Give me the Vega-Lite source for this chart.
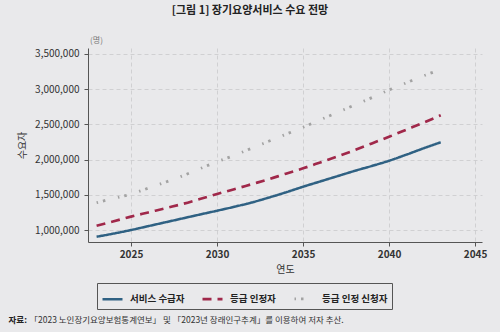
{
  "$schema": "https://vega.github.io/schema/vega-lite/v6.json",
  "width": 394,
  "height": 194,
  "autosize": "none",
  "padding": {"left": 88, "top": 48, "right": 18, "bottom": 90},
  "background": "#e9e9eb",
  "title": {"text": "[그림 1] 장기요양서비스 수요 전망", "font": "Noto Sans CJK KR", "fontSize": 11, "fontWeight": "bold", "color": "#222222", "anchor": "middle", "dx": -35, "offset": 20},
  "config": {
    "view": {"stroke": null},
    "font": "Noto Sans CJK KR",
    "axis": {"labelFont": "Noto Sans CJK KR", "titleFont": "Noto Sans CJK KR", "labelColor": "#333333", "titleColor": "#333333", "labelFontSize": 10, "titleFontSize": 10, "titleFontWeight": "normal", "domainColor": "#555555", "tickColor": "#555555", "gridColor": "#c9c9cc", "gridDash": [4, 3], "gridWidth": 0.8, "tickSize": 4}
  },
  "data": {"values": [
    {"year": 2023, "series": "서비스 수급자", "value": 905000},
    {"year": 2024, "series": "서비스 수급자", "value": 950000},
    {"year": 2025, "series": "서비스 수급자", "value": 1000000},
    {"year": 2026, "series": "서비스 수급자", "value": 1055000},
    {"year": 2027, "series": "서비스 수급자", "value": 1110000},
    {"year": 2028, "series": "서비스 수급자", "value": 1165000},
    {"year": 2029, "series": "서비스 수급자", "value": 1220000},
    {"year": 2030, "series": "서비스 수급자", "value": 1274000},
    {"year": 2031, "series": "서비스 수급자", "value": 1330000},
    {"year": 2032, "series": "서비스 수급자", "value": 1390000},
    {"year": 2033, "series": "서비스 수급자", "value": 1460000},
    {"year": 2034, "series": "서비스 수급자", "value": 1535000},
    {"year": 2035, "series": "서비스 수급자", "value": 1615000},
    {"year": 2036, "series": "서비스 수급자", "value": 1690000},
    {"year": 2037, "series": "서비스 수급자", "value": 1765000},
    {"year": 2038, "series": "서비스 수급자", "value": 1840000},
    {"year": 2039, "series": "서비스 수급자", "value": 1910000},
    {"year": 2040, "series": "서비스 수급자", "value": 1984000},
    {"year": 2041, "series": "서비스 수급자", "value": 2070000},
    {"year": 2042, "series": "서비스 수급자", "value": 2160000},
    {"year": 2043, "series": "서비스 수급자", "value": 2246000},
    {"year": 2023, "series": "등급 인정자", "value": 1061000},
    {"year": 2024, "series": "등급 인정자", "value": 1125000},
    {"year": 2025, "series": "등급 인정자", "value": 1190000},
    {"year": 2026, "series": "등급 인정자", "value": 1250000},
    {"year": 2027, "series": "등급 인정자", "value": 1310000},
    {"year": 2028, "series": "등급 인정자", "value": 1370000},
    {"year": 2029, "series": "등급 인정자", "value": 1440000},
    {"year": 2030, "series": "등급 인정자", "value": 1511000},
    {"year": 2031, "series": "등급 인정자", "value": 1580000},
    {"year": 2032, "series": "등급 인정자", "value": 1650000},
    {"year": 2033, "series": "등급 인정자", "value": 1720000},
    {"year": 2034, "series": "등급 인정자", "value": 1800000},
    {"year": 2035, "series": "등급 인정자", "value": 1876000},
    {"year": 2036, "series": "등급 인정자", "value": 1960000},
    {"year": 2037, "series": "등급 인정자", "value": 2045000},
    {"year": 2038, "series": "등급 인정자", "value": 2135000},
    {"year": 2039, "series": "등급 인정자", "value": 2230000},
    {"year": 2040, "series": "등급 인정자", "value": 2325000},
    {"year": 2041, "series": "등급 인정자", "value": 2425000},
    {"year": 2042, "series": "등급 인정자", "value": 2525000},
    {"year": 2043, "series": "등급 인정자", "value": 2630000},
    {"year": 2023, "series": "등급 인정 신청자", "value": 1388000},
    {"year": 2024, "series": "등급 인정 신청자", "value": 1450000},
    {"year": 2025, "series": "등급 인정 신청자", "value": 1510000},
    {"year": 2026, "series": "등급 인정 신청자", "value": 1595000},
    {"year": 2027, "series": "등급 인정 신청자", "value": 1680000},
    {"year": 2028, "series": "등급 인정 신청자", "value": 1770000},
    {"year": 2029, "series": "등급 인정 신청자", "value": 1870000},
    {"year": 2030, "series": "등급 인정 신청자", "value": 1970000},
    {"year": 2031, "series": "등급 인정 신청자", "value": 2060000},
    {"year": 2032, "series": "등급 인정 신청자", "value": 2160000},
    {"year": 2033, "series": "등급 인정 신청자", "value": 2260000},
    {"year": 2034, "series": "등급 인정 신청자", "value": 2360000},
    {"year": 2035, "series": "등급 인정 신청자", "value": 2460000},
    {"year": 2036, "series": "등급 인정 신청자", "value": 2565000},
    {"year": 2037, "series": "등급 인정 신청자", "value": 2670000},
    {"year": 2038, "series": "등급 인정 신청자", "value": 2775000},
    {"year": 2039, "series": "등급 인정 신청자", "value": 2880000},
    {"year": 2040, "series": "등급 인정 신청자", "value": 2990000},
    {"year": 2041, "series": "등급 인정 신청자", "value": 3090000},
    {"year": 2042, "series": "등급 인정 신청자", "value": 3190000},
    {"year": 2043, "series": "등급 인정 신청자", "value": 3280000}
  ]},
  "resolve": {"axis": {"x": "independent", "y": "independent"}},
  "layer": [
    {
      "mark": {"type": "line", "interpolate": "monotone"},
      "encoding": {
        "x": {"field": "year", "type": "quantitative", "scale": {"domain": [2022.5, 2045.4], "nice": false, "zero": false},
              "axis": {"values": [2025, 2030, 2035, 2040, 2045], "format": "d", "title": "연도", "titlePadding": 5, "labelFontWeight": "bold", "labelPadding": 3}},
        "y": {"field": "value", "type": "quantitative", "scale": {"domain": [830000, 3585000], "nice": false, "zero": false},
              "axis": {"values": [1000000, 1500000, 2000000, 2500000, 3000000, 3500000], "format": ",d", "title": "수요자", "titleX": -66, "titleY": 97, "titleAngle": 270, "titleAlign": "center", "titleBaseline": "middle", "labelPadding": 5}},
        "color": {"field": "series", "type": "nominal",
                  "scale": {"domain": ["서비스 수급자", "등급 인정자", "등급 인정 신청자"], "range": ["#2f6183", "#a0284a", "#a3a3a3"]},
                  "legend": {"orient": "none", "legendX": 9, "legendY": 235, "direction": "horizontal", "title": null, "symbolType": "stroke", "symbolSize": 400, "symbolStrokeWidth": 2.5, "labelFontSize": 9.5, "labelFontWeight": "bold", "labelColor": "#222222", "strokeColor": "#555555", "padding": 4, "columnPadding": 12, "labelOffset": 6}},
        "strokeDash": {"field": "series", "type": "nominal",
                  "scale": {"domain": ["서비스 수급자", "등급 인정자", "등급 인정 신청자"], "range": [[1, 0], [9, 6], [1.5, 5, 2.5, 13]]}},
        "strokeWidth": {"field": "series", "type": "nominal", "scale": {"domain": ["서비스 수급자", "등급 인정자", "등급 인정 신청자"], "range": [2.5, 2.8, 2]}, "legend": null}
      }
    },
    {
      "mark": {"type": "point", "opacity": 0},
      "encoding": {
        "x": {"field": "year", "type": "quantitative", "scale": {"domain": [2022.5, 2045.4], "nice": false, "zero": false},
              "axis": {"orient": "bottom", "labels": false, "ticks": false, "domain": false, "grid": false, "title": "자료:", "titleFontSize": 8.5, "titleFontWeight": "bold", "titleColor": "#222222", "titleX": -80, "titleY": 77, "titleAlign": "left", "titleAnchor": "start", "titleBaseline": "middle"}},
        "y": {"field": "value", "type": "quantitative", "scale": {"domain": [830000, 3585000], "nice": false, "zero": false},
              "axis": {"orient": "left", "labels": false, "ticks": false, "domain": false, "grid": false, "title": "(명)", "titleFontSize": 8, "titleColor": "#777777", "titleAngle": 0, "titleX": 8, "titleY": -8, "titleAlign": "center", "titleBaseline": "middle"}}
      }
    },
    {
      "mark": {"type": "point", "opacity": 0},
      "encoding": {
        "x": {"field": "year", "type": "quantitative", "scale": {"domain": [2022.5, 2045.4], "nice": false, "zero": false},
              "axis": {"orient": "bottom", "labels": false, "ticks": false, "domain": false, "grid": false, "title": "「2023 노인장기요양보험통계연보」 및 「2023년 장래인구추계」를 이용하여 저자 추산.", "titleFontSize": 8.5, "titleColor": "#333333", "titleX": -59, "titleY": 77, "titleAlign": "left", "titleAnchor": "start", "titleBaseline": "middle"}},
        "y": {"field": "value", "type": "quantitative", "scale": {"domain": [830000, 3585000], "nice": false, "zero": false}, "axis": null}
      }
    }
  ]
}
